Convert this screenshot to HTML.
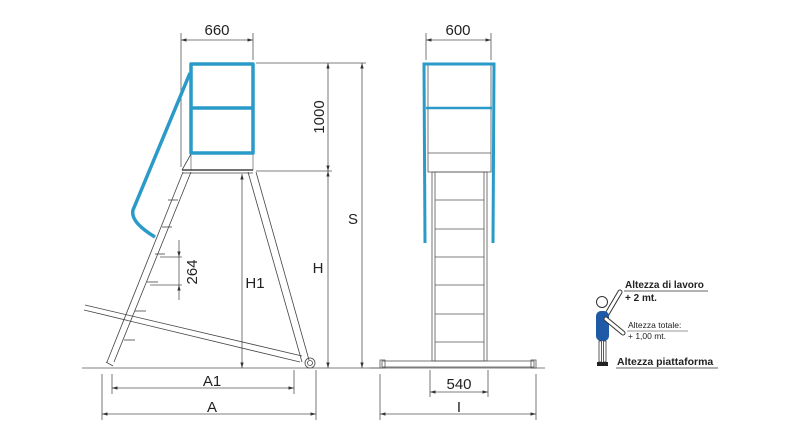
<!DOCTYPE html>
<html><head><meta charset="utf-8"><style>
html,body{margin:0;padding:0;background:#fff;}
svg{display:block;}
text{font-family:"Liberation Sans",sans-serif;fill:#222;}
</style></head><body>
<svg width="800" height="445" viewBox="0 0 800 445" xmlns="http://www.w3.org/2000/svg">
<defs>
<marker id="ar" viewBox="0 0 10 10" refX="10" refY="5" markerWidth="7" markerHeight="7" orient="auto-start-reverse"><path d="M0,2 L10,5 L0,8 z" fill="#333"/></marker>
</defs>
<g stroke="#555" stroke-width="0.8" fill="none">
<line x1="82" y1="368" x2="380" y2="368"/>
<line x1="370" y1="368" x2="545" y2="368"/>
<line x1="181" y1="33" x2="181" y2="167"/>
<line x1="253" y1="33" x2="253" y2="60"/>
<line x1="256" y1="63" x2="366" y2="63"/>
<line x1="256" y1="171" x2="332" y2="171"/>
<line x1="102" y1="374" x2="102" y2="420"/>
<line x1="112" y1="374" x2="112" y2="394"/>
<line x1="294" y1="370" x2="294" y2="394"/>
<line x1="316" y1="370" x2="316" y2="420"/>
<line x1="380" y1="374" x2="380" y2="420"/>
<line x1="536" y1="374" x2="536" y2="420"/>
<line x1="430" y1="370" x2="430" y2="397"/>
<line x1="488" y1="370" x2="488" y2="397"/>
<line x1="426" y1="33" x2="426" y2="60"/>
<line x1="491" y1="33" x2="491" y2="60"/>
<line x1="181" y1="40" x2="253" y2="40" marker-start="url(#ar)" marker-end="url(#ar)"/>
<line x1="328" y1="63" x2="328" y2="171" marker-start="url(#ar)" marker-end="url(#ar)"/>
<line x1="328" y1="171" x2="328" y2="368" marker-start="url(#ar)" marker-end="url(#ar)"/>
<line x1="362" y1="63" x2="362" y2="368" marker-start="url(#ar)" marker-end="url(#ar)"/>
<line x1="242" y1="174" x2="242" y2="368" marker-start="url(#ar)" marker-end="url(#ar)"/>
<line x1="112" y1="388" x2="294" y2="388" marker-start="url(#ar)" marker-end="url(#ar)"/>
<line x1="102" y1="414" x2="316" y2="414" marker-start="url(#ar)" marker-end="url(#ar)"/>
<line x1="179" y1="240" x2="179" y2="257" marker-end="url(#ar)"/>
<line x1="179" y1="300" x2="179" y2="285" marker-end="url(#ar)"/>
<line x1="179" y1="257" x2="179" y2="285"/>
<line x1="160" y1="257" x2="182" y2="257"/>
<line x1="150" y1="285" x2="182" y2="285"/>
<line x1="426" y1="40" x2="491" y2="40" marker-start="url(#ar)" marker-end="url(#ar)"/>
<line x1="430" y1="392" x2="488" y2="392" marker-start="url(#ar)" marker-end="url(#ar)"/>
<line x1="380" y1="414" x2="536" y2="414" marker-start="url(#ar)" marker-end="url(#ar)"/>
</g>
<g stroke="#444" stroke-width="0.8" fill="none">
<rect x="191" y="154" width="62" height="16" stroke="#777"/>
<line x1="182" y1="170" x2="253" y2="170" stroke-width="1.5"/>
<line x1="182" y1="173" x2="253" y2="173"/>
<line x1="191" y1="154" x2="182" y2="170"/>
<line x1="183" y1="172" x2="107" y2="362"/>
<line x1="191" y1="172" x2="114" y2="362"/>
<line x1="168" y1="200" x2="178" y2="200"/>
<line x1="162" y1="227" x2="172" y2="227"/>
<line x1="155" y1="254" x2="165" y2="254"/>
<line x1="147" y1="282" x2="158" y2="282"/>
<line x1="135" y1="311" x2="146" y2="311"/>
<line x1="124" y1="340" x2="135" y2="340"/>
<line x1="106" y1="362" x2="113" y2="366"/>
<line x1="248" y1="172" x2="302" y2="362"/>
<line x1="256" y1="172" x2="309" y2="360"/>
<line x1="85" y1="305" x2="302" y2="356"/>
<line x1="84" y1="310" x2="300" y2="362"/>
<circle cx="310" cy="363" r="5"/>
<circle cx="310" cy="363" r="2.5"/>
</g>
<g stroke="#2a9bc8" stroke-width="3.5" fill="none" stroke-linejoin="round">
<rect x="191" y="64" width="62" height="89"/>
<line x1="191" y1="108" x2="253" y2="108"/>
<path d="M190,73 L133,210 Q130,222 155,237"/>
</g>
<g stroke="#555" stroke-width="0.8" fill="none">
<rect x="428" y="64" width="63" height="108"/>
<line x1="428" y1="153" x2="491" y2="153"/>
<rect x="432" y="172" width="55" height="189"/>
<line x1="435" y1="172" x2="435" y2="361"/>
<line x1="484" y1="172" x2="484" y2="361"/>
<line x1="435" y1="200" x2="484" y2="200"/>
<line x1="435" y1="229" x2="484" y2="229"/>
<line x1="435" y1="257" x2="484" y2="257"/>
<line x1="435" y1="285" x2="484" y2="285"/>
<line x1="435" y1="314" x2="484" y2="314"/>
<line x1="435" y1="342" x2="484" y2="342"/>
<rect x="382" y="361" width="152" height="6"/>
<rect x="380" y="360" width="5" height="8"/>
<rect x="531" y="360" width="5" height="8"/>
</g>
<g stroke="#2a9bc8" stroke-width="3" fill="none">
<path d="M425,243 L424,64 L494,64 L493,243"/>
<line x1="426" y1="108" x2="492" y2="108" stroke-width="2.5"/>
</g>
<text x="217" y="35" font-size="15" text-anchor="middle">660</text>
<text x="458" y="35" font-size="15" text-anchor="middle">600</text>
<text transform="translate(324,117) rotate(-90)" font-size="15" text-anchor="middle">1000</text>
<text transform="translate(197,272) rotate(-90)" font-size="15" text-anchor="middle">264</text>
<text x="353" y="224" font-size="15" text-anchor="middle">S</text>
<text x="318" y="273" font-size="15" text-anchor="middle">H</text>
<text x="255" y="288" font-size="15" text-anchor="middle">H1</text>
<text x="212" y="386" font-size="15" text-anchor="middle">A1</text>
<text x="212" y="412" font-size="15" text-anchor="middle">A</text>
<text x="459" y="389" font-size="15" text-anchor="middle">540</text>
<text x="459" y="412" font-size="15" text-anchor="middle">I</text>
<g>
<line x1="607" y1="314" x2="620" y2="292" stroke="#333" stroke-width="5" stroke-linecap="round"/>
<line x1="607" y1="314" x2="620" y2="292" stroke="#fff" stroke-width="3" stroke-linecap="round"/>
<circle cx="602" cy="302" r="5.5" fill="#fff" stroke="#333" stroke-width="1"/>
<rect x="596" y="311" width="13" height="30" rx="5" fill="#1f5aa6"/>
<line x1="606" y1="319" x2="623" y2="333" stroke="#333" stroke-width="5" stroke-linecap="round"/>
<line x1="606" y1="319" x2="623" y2="333" stroke="#fff" stroke-width="3" stroke-linecap="round"/>
<rect x="599" y="341" width="2.5" height="21" fill="#fff" stroke="#333" stroke-width="0.8"/>
<rect x="603.5" y="341" width="2.5" height="21" fill="#fff" stroke="#333" stroke-width="0.8"/>
<rect x="597" y="362" width="11" height="4" fill="#222"/>
</g>
<text x="625" y="288" font-size="10" font-weight="bold">Altezza di lavoro</text>
<line x1="624" y1="291" x2="708" y2="291" stroke="#333" stroke-width="0.8"/>
<text x="625" y="301" font-size="10" font-weight="bold">+ 2 mt.</text>
<text x="628" y="328" font-size="8.5">Altezza totale:</text>
<line x1="627" y1="331" x2="688" y2="331" stroke="#333" stroke-width="0.6"/>
<text x="628" y="339" font-size="8.5">+ 1,00 mt.</text>
<text x="617" y="365" font-size="10.5" font-weight="bold">Altezza piattaforma</text>
<line x1="616" y1="368" x2="718" y2="368" stroke="#333" stroke-width="0.8"/>
</svg>
</body></html>
